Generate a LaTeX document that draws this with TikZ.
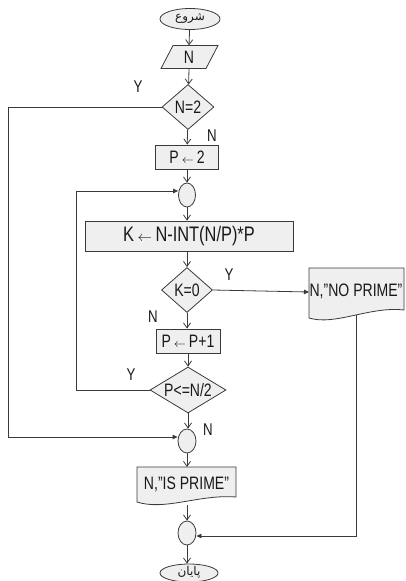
\documentclass[tikz,border=0pt]{standalone}
\usepackage{fontspec}
\setmainfont{Liberation Sans}[FakeStretch=0.78]
\newfontfamily\arabicfont[Script=Arabic]{DejaVu Sans}
\TeXXeTstate=1
\usetikzlibrary{shapes.geometric,arrows.meta,calc}
\definecolor{lc}{HTML}{3A3A3A}
\definecolor{fc}{HTML}{EFEFEF}
\newcommand{\larr}{{\fontsize{13}{13}\selectfont$\leftarrow$}}
\tikzset{
  x=1pt, y=-1pt,
  every node/.style={font=\fontsize{18}{18}\selectfont, text=black!90},
  base/.style={draw=lc, fill=fc, line width=0.8pt, inner sep=0pt},
  procbox/.style={base, rectangle},
  decbox/.style={base, diamond},
  joinbox/.style={base, ellipse, minimum width=17pt, minimum height=24pt},
  termbox/.style={base, ellipse},
  txt/.style={inner sep=0pt},
  flow/.style={draw=lc, line width=0.8pt, -{Straight Barb[length=5pt,width=7pt]}},
  back/.style={draw=lc, line width=0.8pt, -{Triangle[length=5pt,width=4.5pt]}},
  lab/.style={inner sep=0pt, font=\fontsize{17}{17}\selectfont}
}
\begin{document}
\begin{tikzpicture}
\useasboundingbox (0,0) rectangle (405,581);
% start
\node[termbox, minimum width=60pt, minimum height=21pt] (start) at (190,19) {};
\node[txt, font=\fontsize{12}{12}\arabicfont] (startt) at (190,18) {\beginR شروع\endR};
% input parallelogram
\node[txt, minimum width=57pt, minimum height=23pt] (inp) at (189,57) {};
\path[base] (173,45.5) -- (218,45.5) -- (206,68.5) -- (161,68.5) -- cycle;
\node[txt] (inpt) at (189,57) {N};
% decision N=2
\node[decbox, minimum width=52pt, minimum height=45pt] (d1) at (188,107) {};
\node[txt] (d1t) at (188,107) {N=2};
% P <- 2
\node[procbox, minimum width=63pt, minimum height=24pt] (p2) at (187,157) {P\,\larr\,2};
% connector circle 1
\node[joinbox] (c1) at (187,195) {};
% K box
\node[procbox, minimum width=208pt, minimum height=30pt, font=\fontsize{21}{21}\selectfont] (kb) at (189,236) {K\,{\fontsize{15}{15}\selectfont$\leftarrow$}\,N-INT(N/P)*P};
% decision K=0
\node[decbox, minimum width=51pt, minimum height=45pt] (d2) at (187,290) {};
\node[txt] (d2t) at (187,290) {K=0};
% P <- P+1
\node[procbox, minimum width=64pt, minimum height=24pt] (pp) at (188,341) {P\,\larr\,P+1};
% decision P<=N/2
\node[decbox, minimum width=76pt, minimum height=46pt] (d3) at (188,390) {};
\node[txt] (d3t) at (188,390) {P<=N/2};
% connector circle 2
\node[joinbox, minimum width=18pt] (c2) at (187,441) {};
% IS PRIME document
\path[base] (137,467) -- (236,467) -- (236,497) .. controls (200,494) and (165,511) .. (137,502) -- cycle;
\node[txt] (ip) at (186.5,484) {N,"IS PRIME"};
\coordinate (ipn) at (187,467);
\coordinate (ips) at (187,505);
% connector circle 3
\node[joinbox, minimum width=18pt] (c3) at (187,533) {};
% end
\node[termbox, minimum width=58pt, minimum height=18pt] (stop) at (189,573) {};
\node[txt, font=\fontsize{12}{12}\arabicfont] (stopt) at (189,572) {\beginR پایان\endR};
% NO PRIME document
\path[base] (309,268) -- (404,268) -- (404,310) .. controls (370,306) and (335,326) .. (309,318) -- cycle;
\node[txt] (np) at (356,291) {N,"NO PRIME"};
\coordinate (npw) at (309,292);
\coordinate (npb) at (356,315);
% labels
\node[lab] (y1) at (138,87) {Y};
\node[lab] (n1) at (212,136) {N};
\node[lab] (y2) at (229,275) {Y};
\node[lab] (n2) at (153,317) {N};
\node[lab] (y3) at (131,375) {Y};
\node[lab] (n3) at (208,430) {N};
% main flow
\draw[flow] (start) -- (inp.north);
\draw[flow] (inp.south) -- (d1);
\draw[flow] (d1) -- (p2);
\draw[flow] (p2) -- (c1);
\draw[flow] (c1) -- (c1 |- kb.north);
\draw[flow] (c1 |- kb.south) -- (d2);
\draw[flow] (d2) -- (d2 |- pp.north);
\draw[flow] (pp) -- (d3);
\draw[flow] (d3) -- (d3 |- c2.north);
\draw[flow] (c2) -- (c2 |- ipn);
\draw[flow] (c2 |- ips) -- (c3);
\draw[flow] (c3) -- (c3 |- stop.north);
% branches
\coordinate (l1) at (8,107);
\coordinate (l3) at (76,390);
\coordinate (r1) at (356,536);
\draw[back] (d1.west) -- (l1) |- ([yshift=4pt]c2.west);
\draw[back] (d3.west) -- (l3) |- ([yshift=4pt]c1.west);
\draw[back] (d2.east) -- (npw);
\draw[back] (npb) -- (r1) -- ([yshift=-3pt]c3.east);
\end{tikzpicture}
\end{document}
